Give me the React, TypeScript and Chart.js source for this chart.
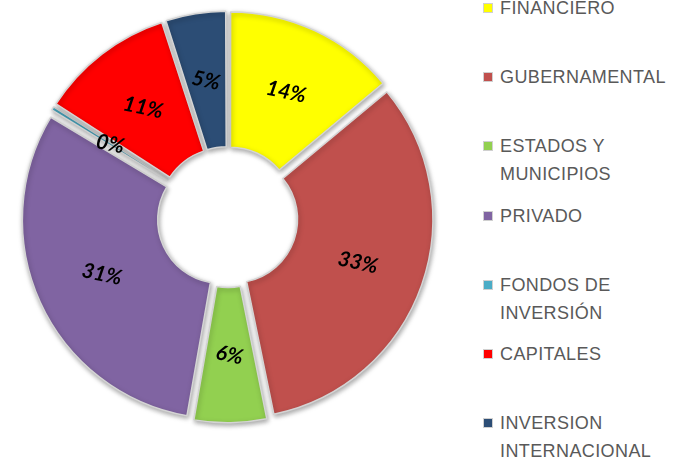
import React, { useEffect, useRef } from "react";
import { Chart, registerables } from "chart.js";

Chart.register(...registerables);

const categories = [
  "FINANCIERO",
  "GUBERNAMENTAL",
  "ESTADOS Y MUNICIPIOS",
  "PRIVADO",
  "FONDOS DE INVERSIÓN",
  "CAPITALES",
  "INVERSION INTERNACIONAL",
];
const values = [14, 33, 6, 31, 0.45, 11, 5];
const colors = ["#FFFF00", "#C0504D", "#92D050", "#8064A2", "#4BACC6", "#FF0000", "#2C4D75"];

// Chart.js translates each arc by offset / 4
const OFFSET = 27;

// Chart.js also grows the radii of small arcs by (offset/4)*fix; undo that so all slices share the same radius
const equalRadiusPlugin = {
  id: "equalRadius",
  afterDatasetUpdate(chart: any, args: any) {
    const meta = chart.getDatasetMeta(args.index);
    meta.data.forEach((arc: any) => {
      const circ = arc.endAngle - arc.startAngle;
      const fix = 1 - Math.sin(Math.min(Math.PI, circ || 0));
      const ro = (OFFSET / 4) * fix;
      arc.outerRadius = arc.outerRadius - ro;
      arc.innerRadius = Math.max(arc.innerRadius - ro, 0.01);
    });
  },
};

const shadowPlugin = {
  id: "sliceShadow",
  beforeDatasetsDraw(chart: any) {
    const c = chart.ctx;
    c.save();
    c.shadowColor = "rgba(0,0,0,0.35)";
    c.shadowBlur = 5;
    c.shadowOffsetX = 1;
    c.shadowOffsetY = 2;
  },
  afterDatasetsDraw(chart: any) {
    chart.ctx.restore();
  },
};

const labelPlugin = {
  id: "sliceLabels",
  afterDraw(chart: any) {
    const c = chart.ctx;
    const meta = chart.getDatasetMeta(0);
    const ctrl = meta.controller;
    const r = (ctrl.innerRadius + ctrl.outerRadius) / 2 + OFFSET / 4;
    c.save();
    c.font = "italic bold 21px Lato, 'Open Sans', sans-serif";
    c.fillStyle = "#000";
    c.textAlign = "center";
    c.textBaseline = "middle";
    meta.data.forEach((arc: any, i: number) => {
      const half = (arc.startAngle + arc.endAngle) / 2;
      const px = arc.x + Math.cos(half) * r;
      const py = arc.y + Math.sin(half) * r;
      c.save();
      c.translate(px, py);
      c.rotate((12 * Math.PI) / 180);
      c.fillText(Math.round(values[i]) + "%", 0, 0);
      c.restore();
    });
    c.restore();
  },
};

export default function App() {
  const ref = useRef<HTMLCanvasElement>(null);
  useEffect(() => {
    document.body.style.margin = "0";
    const chart = new Chart(ref.current as HTMLCanvasElement, {
      type: "doughnut",
      data: {
        labels: categories,
        datasets: [
          {
            data: values,
            backgroundColor: colors,
            borderColor: "#D4D4D4",
            borderWidth: 1.5,
            offset: OFFSET,
          },
        ],
      },
      options: {
        responsive: false,
        animation: false,
        radius: 199,
        cutout: "32%",
        layout: { padding: 0 },
        plugins: { legend: { display: false }, tooltip: { enabled: false } },
      },
      plugins: [equalRadiusPlugin, shadowPlugin, labelPlugin],
    });
    return () => chart.destroy();
  }, []);

  return (
    <div style={{ position: "relative", width: 677, height: 458, overflow: "hidden", background: "#fff" }}>
      <canvas ref={ref} width={455} height={434} style={{ position: "absolute", left: 0, top: 0 }} />
      {categories.map((c, i) => (
        <div
          key={c}
          style={{
            position: "absolute",
            left: 483,
            top: -6 + i * 69.2,
            display: "flex",
            alignItems: "flex-start",
          }}
        >
          <div
            style={{
              width: 10,
              height: 10,
              marginTop: 9,
              background: colors[i],
              border: "1px solid #d0d0d0",
              boxSizing: "border-box",
            }}
          />
          <div
            style={{
              marginLeft: 7,
              width: 180,
              font: "18px 'Liberation Sans', Arial, sans-serif",
              letterSpacing: "0.4px",
              lineHeight: "28px",
              color: "#595959",
            }}
          >
            {c}
          </div>
        </div>
      ))}
    </div>
  );
}
